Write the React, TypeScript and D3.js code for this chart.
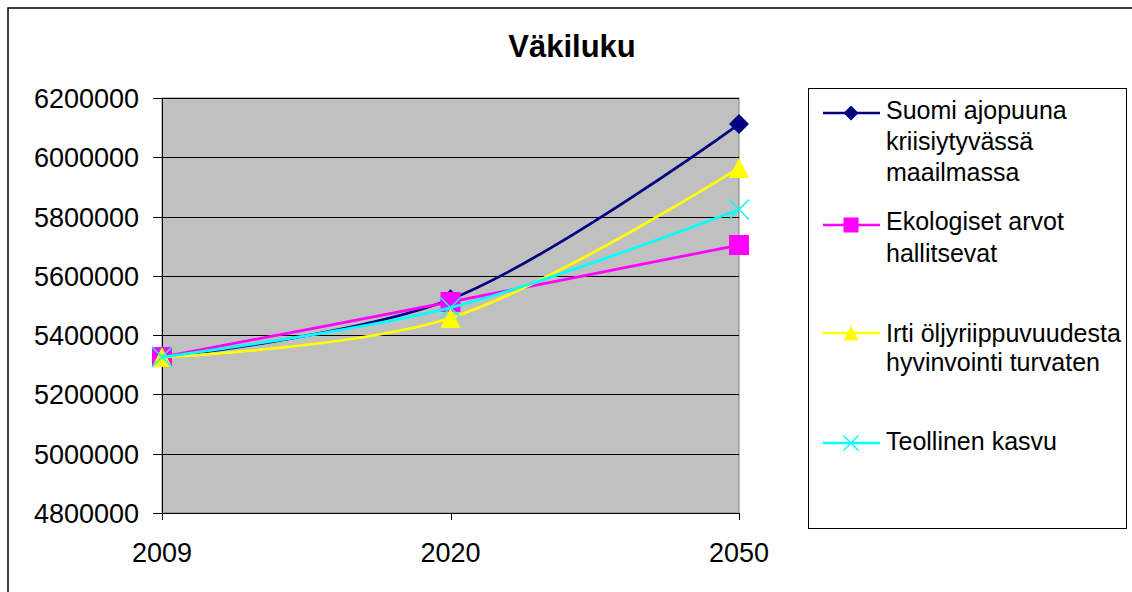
import React from "react";
import * as d3 from "d3";

const categories = ["2009", "2020", "2050"];
const yTicks = [4800000, 5000000, 5200000, 5400000, 5600000, 5800000, 6000000, 6200000];

const suomi = [5326000, 5521000, 6112000];
const ekologiset = [5326000, 5512000, 5704000];
const irti = [5326000, 5458000, 5964000];
const teollinen = [5326000, 5493000, 5824000];

const seriesNames = [
  ["Suomi ajopuuna", "kriisiytyvässä", "maailmassa"],
  ["Ekologiset arvot", "hallitsevat"],
  ["Irti öljyriippuvuudesta", "hyvinvointi turvaten"],
  ["Teollinen kasvu"],
];

const title = "Väkiluku";

const series = [
  { values: suomi, color: "#000080", marker: "diamond" },
  { values: ekologiset, color: "#FF00FF", marker: "square" },
  { values: irti, color: "#FFFF00", marker: "triangle" },
  { values: teollinen, color: "#00FFFF", marker: "x" },
];

const FONT = "'Liberation Sans', Arial, sans-serif";

function Marker({ type, cx, cy, s, color }: { type: string; cx: number; cy: number; s: number; color: string }) {
  const h = s / 2;
  if (type === "diamond") {
    return <path d={`M${cx},${cy - h}L${cx + h},${cy}L${cx},${cy + h}L${cx - h},${cy}Z`} fill={color} />;
  }
  if (type === "square") {
    return <rect x={cx - h} y={cy - h} width={s} height={s} fill={color} />;
  }
  if (type === "triangle") {
    return <path d={`M${cx},${cy - h}L${cx + h},${cy + h}L${cx - h},${cy + h}Z`} fill={color} />;
  }
  return (
    <g stroke={color} strokeWidth={1.5}>
      <line x1={cx - h} y1={cy - h} x2={cx + h} y2={cy + h} />
      <line x1={cx - h} y1={cy + h} x2={cx + h} y2={cy - h} />
    </g>
  );
}

export default function App() {
  const left = 162, right = 739, top = 98, bottom = 513;
  const x = d3.scalePoint<string>().domain(categories).range([left, right]);
  const y = d3.scaleLinear().domain([4800000, 6200000]).range([bottom, top]);
  const line = d3
    .line<number>()
    .x((_, i) => x(categories[i]) as number)
    .y((d) => y(d))
    .curve(d3.curveCatmullRom.alpha(0.5));

  const legendMarkerY = [113, 225, 333, 443];
  const legendFirstBaseline = [119, 230, 342, 450];
  const legendLineGap = [31, 32, 29, 0];

  return (
    <svg
      width={1132}
      height={592}
      style={{ position: "absolute", left: 0, top: 0, display: "block" }}
      fontFamily={FONT}
    >
      <rect x={0} y={0} width={1132} height={592} fill="#fff" />
      <rect x={8} y={8} width={1200} height={700} fill="#fff" stroke="#000" strokeWidth={1.5} />
      <text x={572} y={57} textAnchor="middle" fontSize={31} fontWeight="bold">
        {title}
      </text>

      {/* plot area */}
      <rect x={left} y={top} width={right - left} height={bottom - top} fill="#C0C0C0" stroke="#808080" strokeWidth={1} />
      {yTicks.map((t) => (
        <g key={t}>
          <line x1={left} x2={right} y1={Math.round(y(t)) + 0.5} y2={Math.round(y(t)) + 0.5} stroke="#000" strokeWidth={1} />
          <line x1={153} x2={left} y1={Math.round(y(t)) + 0.5} y2={Math.round(y(t)) + 0.5} stroke="#000" strokeWidth={1} />
          <text x={139} y={y(t) + 10} textAnchor="end" fontSize={27}>
            {t}
          </text>
        </g>
      ))}
      <line x1={left + 0.5} x2={left + 0.5} y1={top} y2={bottom} stroke="#000" strokeWidth={1} />
      <line x1={left} x2={right} y1={bottom + 0.5} y2={bottom + 0.5} stroke="#000" strokeWidth={1} />
      {categories.map((c) => (
        <g key={c}>
          <line x1={Math.round(x(c) as number) + 0.5} x2={Math.round(x(c) as number) + 0.5} y1={bottom} y2={bottom + 7} stroke="#000" />
          <text x={x(c) as number} y={562} textAnchor="middle" fontSize={27}>
            {c}
          </text>
        </g>
      ))}

      {series.map((s, i) => (
        <g key={i}>
          <path d={line(s.values) as string} fill="none" stroke={s.color} strokeWidth={2.75} />
          {s.values.map((v, j) => (
            <Marker key={j} type={s.marker} cx={x(categories[j]) as number} cy={y(v)} s={20} color={s.color} />
          ))}
        </g>
      ))}

      {/* legend */}
      <rect x={808.5} y={88.5} width={318} height={440} fill="#fff" stroke="#000" strokeWidth={1} />
      {series.map((s, i) => (
        <g key={i}>
          <line x1={823} x2={880} y1={legendMarkerY[i]} y2={legendMarkerY[i]} stroke={s.color} strokeWidth={2.5} />
          <Marker type={s.marker} cx={851} cy={legendMarkerY[i]} s={15} color={s.color} />
          {seriesNames[i].map((t, k) => (
            <text key={k} x={886} y={legendFirstBaseline[i] + k * legendLineGap[i]} fontSize={25}>
              {t}
            </text>
          ))}
        </g>
      ))}
    </svg>
  );
}
